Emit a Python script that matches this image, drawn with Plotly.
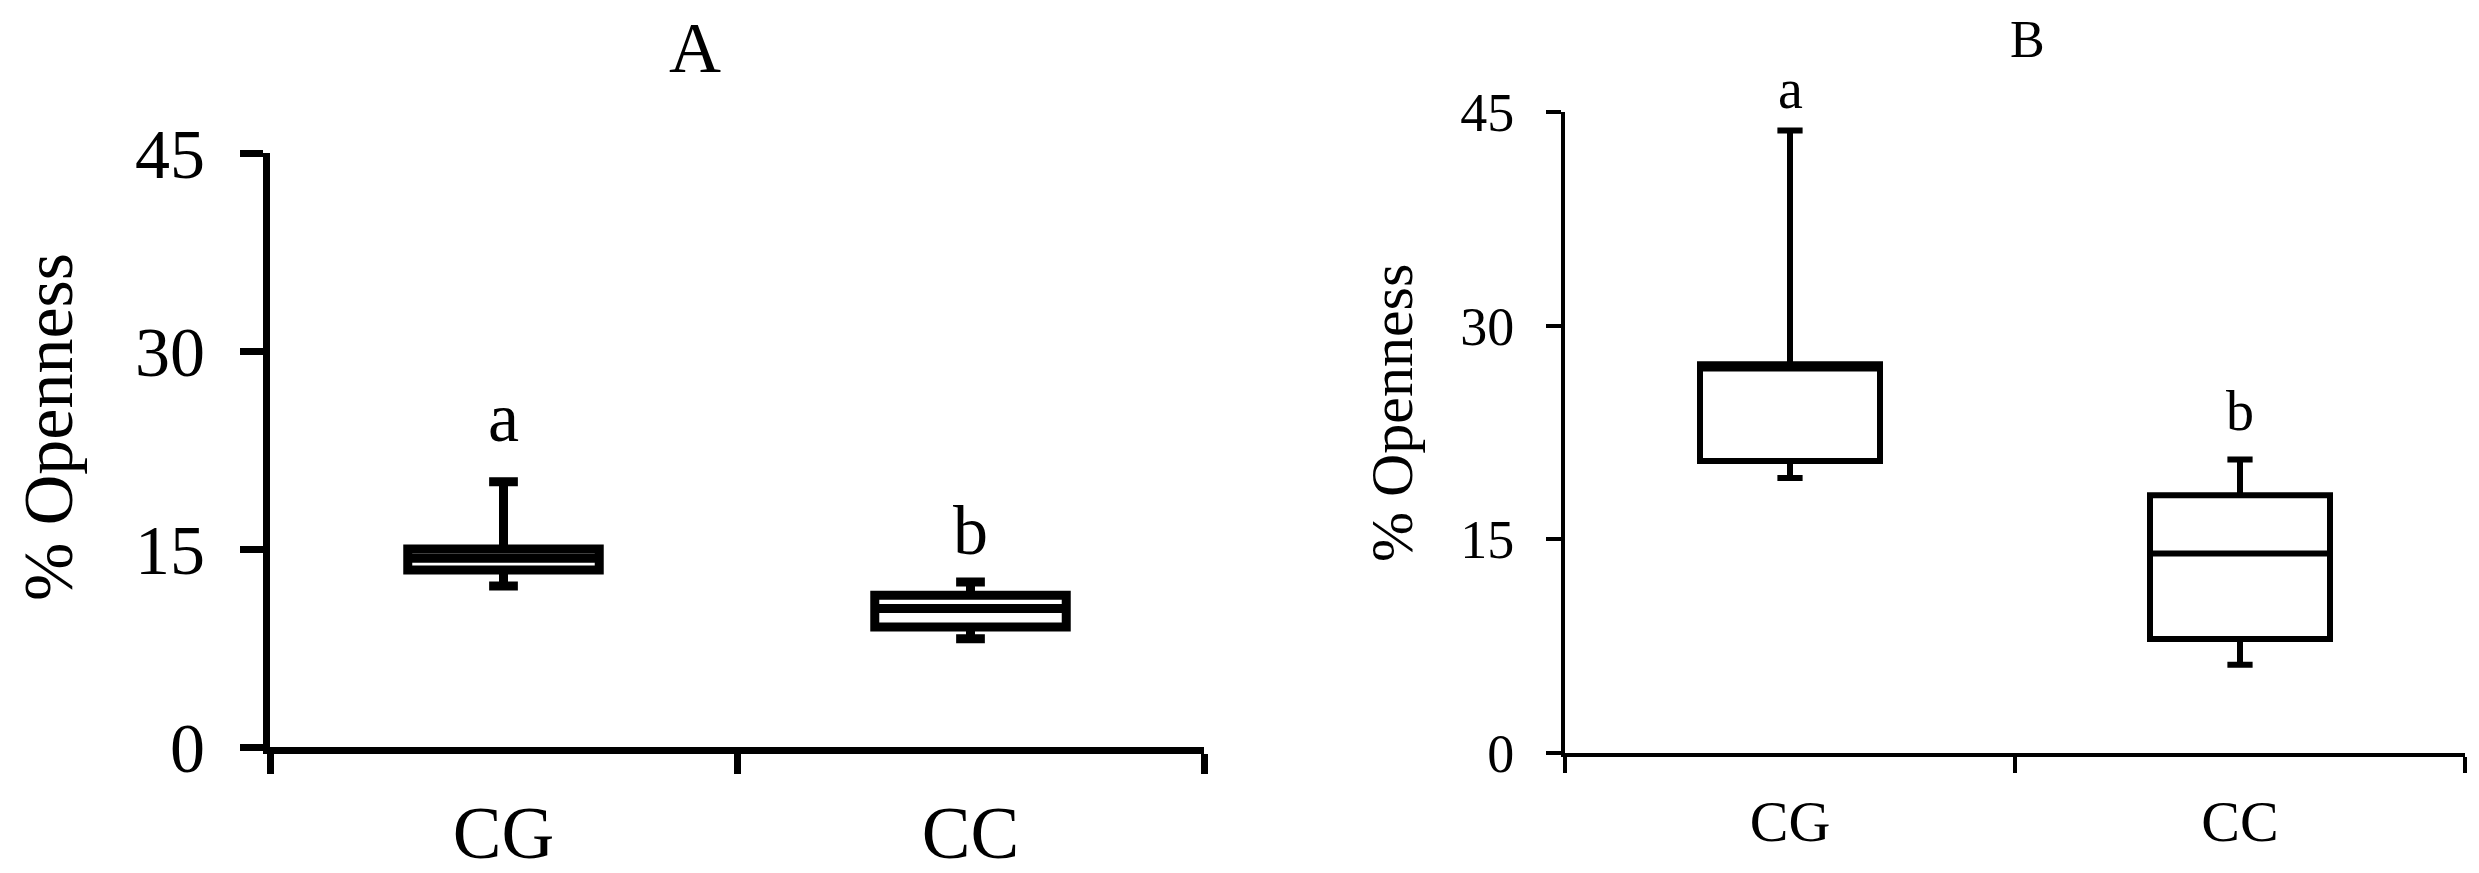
import plotly.graph_objects as go

# categories and box statistics
groups = ["CG", "CC"]

a_lower = [12.2, 8.2]
a_q1 = [13.4, 9.1]
a_median = [14.3, 10.5]
a_q3 = [15.0, 11.5]
a_upper = [20.1, 12.5]
a_letters = ["a", "b"]
a_letter_y = [25.0, 16.4]

b_lower = [19.3, 6.2]
b_q1 = [20.5, 8.0]
b_median = [27.0, 14.0]
b_q3 = [27.3, 18.1]
b_upper = [43.7, 20.6]
b_letters = ["a", "b"]
b_letter_y = [46.6, 24.0]

y_ticks = [0, 15, 30, 45]
y_max = 45

SERIF = "Liberation Serif, Times New Roman, serif"

# the page puts the figure 8 px in from the top-left window corner
PAGE_PAD = 8
W = 2479 - PAGE_PAD
H = 873 - PAGE_PAD


def px_x(p):
    return (p - PAGE_PAD) / W


def px_y(p):
    return 1 - (p - PAGE_PAD) / H


def box_trace(q1, med, q3, lo, hi, lw, width, whisk, xa, ya):
    return go.Box(
        x=groups,
        q1=q1,
        median=med,
        q3=q3,
        lowerfence=lo,
        upperfence=hi,
        width=width,
        whiskerwidth=whisk,
        fillcolor="white",
        line=dict(color="black", width=lw),
        xaxis=xa,
        yaxis=ya,
        showlegend=False,
        hoverinfo="skip",
    )


fig = go.Figure()
fig.add_trace(box_trace(a_q1, a_median, a_q3, a_lower, a_upper, 9, 0.41, 0.15, "x", "y"))
fig.add_trace(box_trace(b_q1, b_median, b_q3, b_lower, b_upper, 6, 0.40, 0.14, "x2", "y2"))

annotations = []
# significance letters (y given against the axis domain so they can sit above 45)
for g, t, v in zip(groups, a_letters, a_letter_y):
    annotations.append(dict(x=g, y=v / y_max, xref="x", yref="y domain", text=t,
                            showarrow=False, xanchor="center", yanchor="middle",
                            font=dict(family=SERIF, size=70, color="black")))
for g, t, v in zip(groups, b_letters, b_letter_y):
    annotations.append(dict(x=g, y=v / y_max, xref="x2", yref="y2 domain", text=t,
                            showarrow=False, xanchor="center", yanchor="middle",
                            font=dict(family=SERIF, size=56, color="black")))

# panel titles and y-axis titles
annotations += [
    dict(x=px_x(695), y=px_y(48), xref="paper", yref="paper", text="A", showarrow=False,
         xanchor="center", yanchor="middle", font=dict(family=SERIF, size=72, color="black")),
    dict(x=px_x(2027), y=px_y(39), xref="paper", yref="paper", text="B", showarrow=False,
         xanchor="center", yanchor="middle", font=dict(family=SERIF, size=52, color="black")),
    dict(x=px_x(49), y=px_y(427), xref="paper", yref="paper", text="% Openness",
         textangle=-90, showarrow=False, xanchor="center", yanchor="middle",
         font=dict(family=SERIF, size=70, color="black")),
    dict(x=px_x(1392), y=px_y(413), xref="paper", yref="paper", text="% Openness",
         textangle=-90, showarrow=False, xanchor="center", yanchor="middle",
         font=dict(family=SERIF, size=60, color="black")),
]


def x_axis(domain, anchor, lw, tlen, standoff, fsize):
    return dict(
        domain=domain,
        anchor=anchor,
        type="category",
        range=[-0.5, 1.5],
        tickson="boundaries",
        ticks="outside",
        ticklen=tlen,
        tickwidth=lw,
        tickcolor="black",
        showline=True,
        linecolor="black",
        linewidth=lw,
        showgrid=False,
        zeroline=False,
        automargin=False,
        ticklabelstandoff=standoff,
        tickfont=dict(family=SERIF, size=fsize, color="black"),
    )


def y_axis(domain, anchor, lw, tlen, standoff, fsize):
    return dict(
        domain=domain,
        anchor=anchor,
        range=[0, y_max],
        tickvals=y_ticks,
        ticks="outside",
        ticklen=tlen,
        tickwidth=lw,
        tickcolor="black",
        showline=True,
        linecolor="black",
        linewidth=lw,
        showgrid=False,
        zeroline=False,
        automargin=False,
        ticklabelstandoff=standoff,
        tickfont=dict(family=SERIF, size=fsize, color="black"),
    )


fig.update_layout(
    width=W,
    height=H,
    margin=dict(l=0, r=0, t=0, b=0, autoexpand=False),
    paper_bgcolor="white",
    plot_bgcolor="white",
    annotations=annotations,
    xaxis=x_axis([px_x(270), px_x(1204)], "y", 7, 20, 16, 73),
    yaxis=y_axis([px_y(747), px_y(153)], "x", 7, 23, 21, 70),
    xaxis2=x_axis([px_x(1565), px_x(2465)], "y2", 4, 16, 14, 58),
    yaxis2=y_axis([px_y(753), px_y(112)], "x2", 4, 15, 21, 54),
)

fig.write_html("out.html")
